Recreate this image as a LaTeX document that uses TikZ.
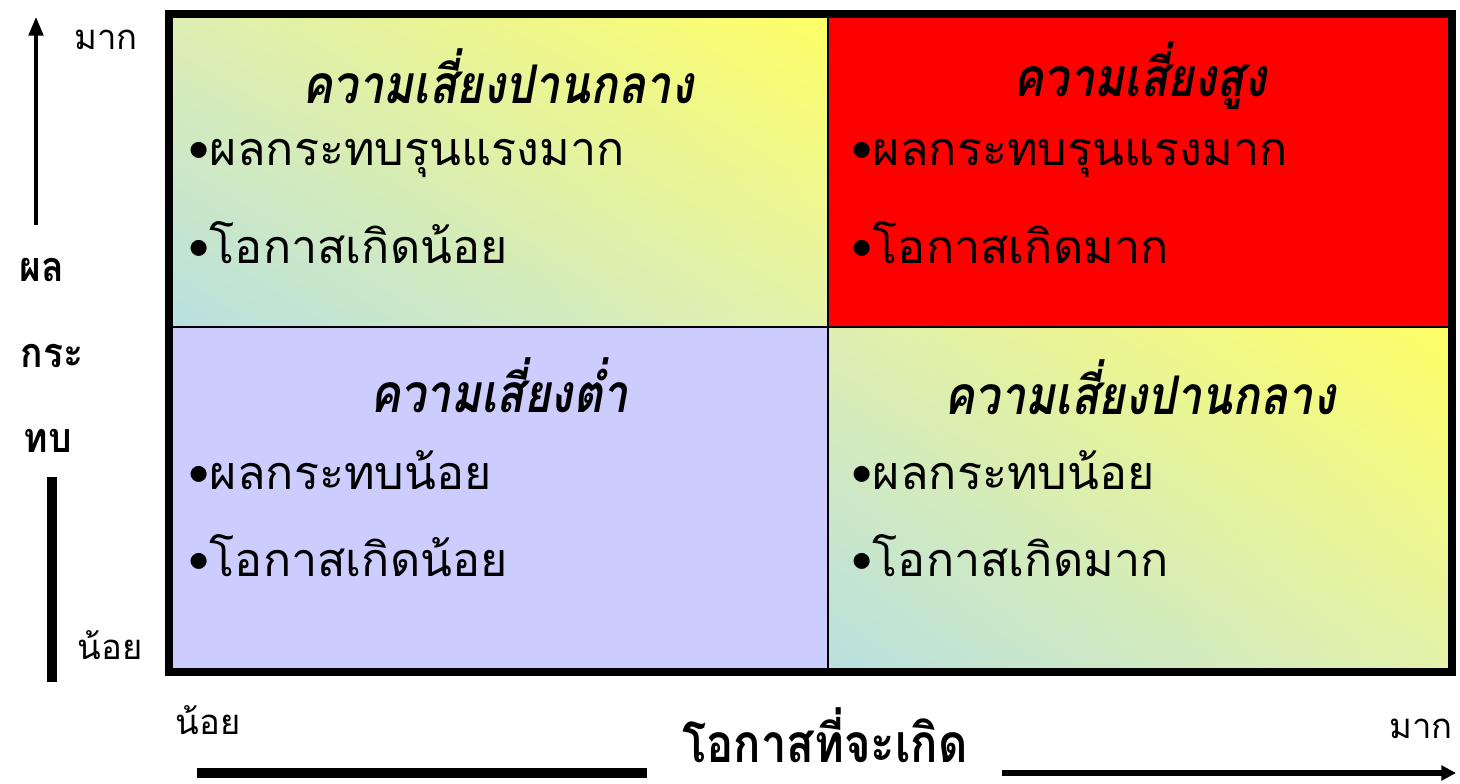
\documentclass[tikz,border=0pt]{standalone}
\usepackage{fontspec}
\usepackage{graphicx}
\newfontfamily\thai[Script=Thai]{Loma}
\usetikzlibrary{arrows.meta,shadings}
\definecolor{qyellow}{RGB}{255,255,102}
\definecolor{qteal}{RGB}{184,224,224}
\definecolor{qmidA}{RGB}{222,238,178}
\definecolor{qmidB}{RGB}{228,242,170}
\definecolor{qlav}{RGB}{204,204,255}
\definecolor{qred}{RGB}{255,0,0}
\tikzset{
  x=0.75pt, y=-0.75pt,
  qtitle/.style={font=\thai\bfseries\itshape\fontsize{40}{42}\selectfont, inner sep=0pt},
  qbullet/.style={font=\thai\fontsize{35}{37}\selectfont, anchor=west, inner sep=0pt},
  axsmall/.style={font=\thai\fontsize{26}{28}\selectfont, inner sep=0pt},
  axbig/.style={font=\thai\bfseries\fontsize{31}{33}\selectfont, inner sep=0pt},
  axtitle/.style={font=\thai\bfseries\fontsize{40}{42}\selectfont, inner sep=0pt, text depth=0pt},
  midshade/.style={upper left=qmidA, upper right=qyellow, lower left=qteal, lower right=qmidB},
}
\newcommand{\narrow}[2]{\scalebox{#1}[1]{#2}}
\begin{document}
\begin{tikzpicture}
\useasboundingbox (0,0) rectangle (1460,784);
\fill[white] (0,0) rectangle (1460,784);
% quadrants
\shade[midshade] (169,14) rectangle (828,327);
\fill[qred] (828,14) rectangle (1452,327);
\fill[qlav] (169,327) rectangle (828,672);
\shade[midshade] (828,327) rectangle (1452,672);
\draw[line width=1.5pt] (828,14) -- (828,672);
\draw[line width=1.5pt] (169,327) -- (1452,327);
\draw[line width=6pt] (169,14) rectangle (1452,672);
% quadrant texts
\node[qtitle] (t1) at (498,76) {\narrow{0.85}{ความเสี่ยงปานกลาง}};
\node[qbullet] (b11) at (188,158) {•ผลกระทบรุนแรงมาก};
\node[qbullet] (b12) at (188,243) {•โอกาสเกิดน้อย};
\node[qtitle] (t2) at (1140,76) {\narrow{0.85}{ความเสี่ยงสูง}};
\node[qbullet] (b21) at (851,158) {•ผลกระทบรุนแรงมาก};
\node[qbullet] (b22) at (851,243) {•โอกาสเกิดมาก};
\node[qtitle] (t3) at (499,385) {\narrow{0.85}{ความเสี่ยงต่ำ}};
\node[qbullet] (b31) at (188,470) {•ผลกระทบน้อย};
\node[qbullet] (b32) at (188,556) {•โอกาสเกิดน้อย};
\node[qtitle] (t4) at (1140,387) {\narrow{0.85}{ความเสี่ยงปานกลาง}};
\node[qbullet] (b41) at (851,470) {•ผลกระทบน้อย};
\node[qbullet] (b42) at (851,556) {•โอกาสเกิดมาก};
% vertical axis
\node[axsmall] (ymax) at (106,40) {มาก};
\node[axsmall] (ymin) at (110,645) {น้อย};
\node[axbig] (y1) at (42,270) {\narrow{0.9}{ผล}};
\node[axbig] (y2) at (52,356) {\narrow{0.9}{กระ}};
\node[axbig] (y3) at (48,441) {\narrow{0.9}{ทบ}};
\coordinate (yatop) at (36,17);
\coordinate (yabot) at (36,225);
\coordinate (ylt) at (52,477);
\coordinate (ylb) at (52,682);
\draw[line width=2.4pt, -{Triangle[length=14pt,width=11pt]}] (yabot) -- (yatop);
\draw[line width=7.5pt] (ylt) -- (ylb);
% horizontal axis
\node[axsmall] (xmin) at (208,720) {น้อย};
\node[axsmall] (xmax) at (1421,729) {มาก};
\node[axtitle, anchor=base] (xt) at (825,762) {\narrow{0.85}{โอกาสที่จะเกิด}};
\coordinate (xl) at (197,773);
\coordinate (xlr) at (647,773);
\coordinate (xrl) at (1002,773);
\coordinate (xr) at (1456,773);
\draw[line width=7.5pt] (xl) -- (xlr);
\draw[line width=3.8pt, -{Triangle[length=11pt,width=11pt]}] (xrl) -- (xr);
\end{tikzpicture}
\end{document}
